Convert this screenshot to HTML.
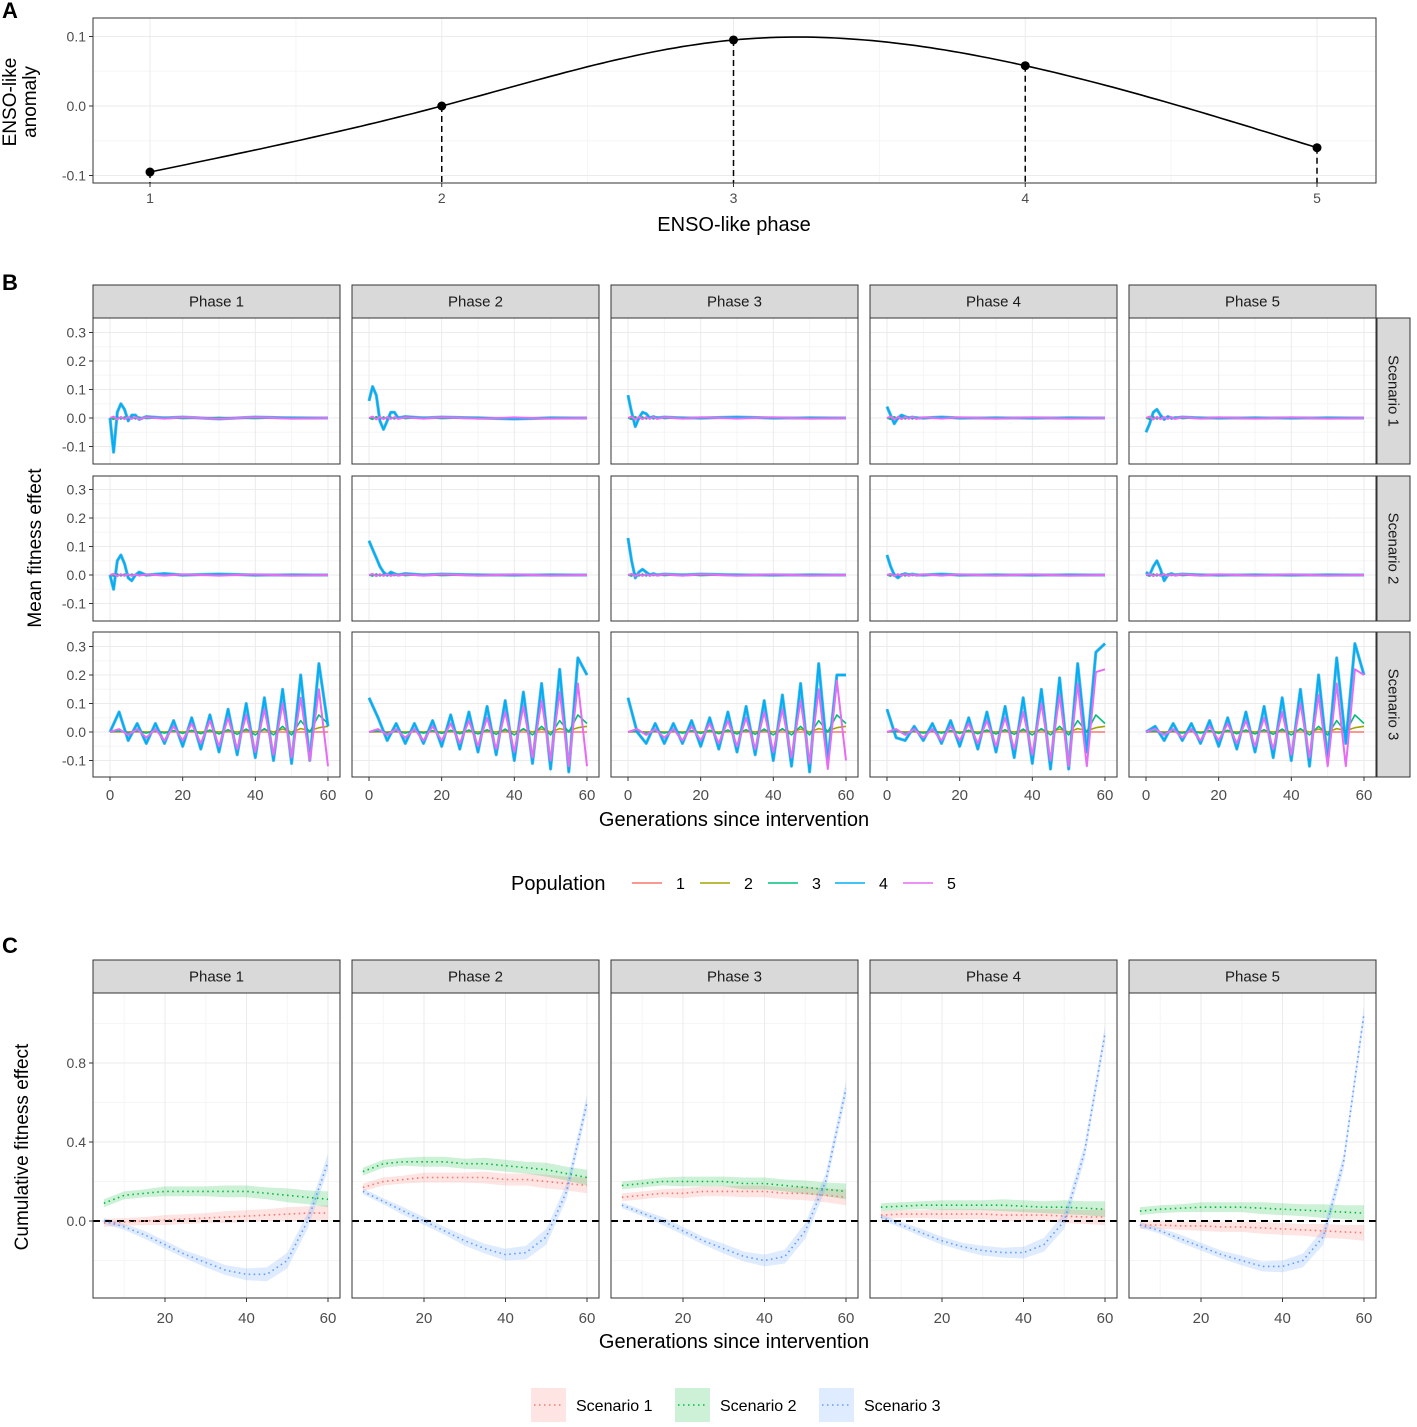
<!DOCTYPE html>
<html><head><meta charset="utf-8">
<style>
html,body{margin:0;padding:0;background:#fff;}
svg{display:block;font-family:"Liberation Sans",Arial,sans-serif;}
</style></head>
<body>
<svg id="chart" width="1417" height="1427" viewBox="0 0 1417 1427" xmlns="http://www.w3.org/2000/svg"></svg>
<script>
// ---------- Panel A data ----------
const aPhases = [1, 2, 3, 4, 5];
const aAnomaly = [-0.095, 0.0, 0.095, 0.058, -0.06];
const aYTicks = [-0.1, 0.0, 0.1];
const aYLabels = ["-0.1", "0.0", "0.1"];

// ---------- Panel B data ----------
const phaseNames = ["Phase 1", "Phase 2", "Phase 3", "Phase 4", "Phase 5"];
const scenarioNames = ["Scenario 1", "Scenario 2", "Scenario 3"];
const popNames = ["1", "2", "3", "4", "5"];
const bYTicks = [-0.1, 0.0, 0.1, 0.2, 0.3];
const bYLabels = ["-0.1", "0.0", "0.1", "0.2", "0.3"];
const bXTicks = [0, 20, 40, 60];
const tEarly = [0, 1, 2, 3, 4, 5, 6, 7, 8, 10, 15, 20, 30, 40, 50, 60];
// pop 4 early response, scenario 1, per phase
const s1Pop4 = [
  [0, -0.12, 0.02, 0.05, 0.03, -0.01, 0.01, 0.01, -0.005, 0.005, 0, 0.003, -0.003, 0.003, 0, 0],
  [0.06, 0.11, 0.08, -0.01, -0.04, -0.01, 0.02, 0.02, 0.0, 0.005, 0, 0.003, 0, -0.003, 0, 0],
  [0.08, 0.02, -0.03, 0.0, 0.02, 0.015, 0.0, 0.005, 0, 0.003, 0, 0, 0.003, 0, 0, 0],
  [0.04, 0.01, -0.02, 0.0, 0.01, 0.005, 0, 0.003, 0, 0, 0.003, 0, 0, 0, 0, 0],
  [-0.05, -0.02, 0.02, 0.03, 0.01, -0.005, 0.005, 0, 0, 0.003, 0, 0, 0, 0, 0, 0]
];
const s1Pop5 = [0, 0.005, -0.005, 0.004, -0.004, 0.003, -0.003, 0.003, -0.003, 0.002, -0.002, 0.002, -0.002, 0.002, -0.002, 0];
const s2Pop4 = [
  [0, -0.05, 0.05, 0.07, 0.04, -0.01, -0.02, 0.0, 0.01, 0.0, 0.005, 0, 0.003, 0, 0, 0],
  [0.12, 0.09, 0.06, 0.03, 0.01, 0.0, 0.01, 0.005, 0, 0.005, 0, 0.003, 0, 0, 0, 0],
  [0.13, 0.05, -0.01, 0.01, 0.02, 0.01, 0.0, 0.005, 0, 0.003, 0, 0.003, 0, 0, 0, 0],
  [0.07, 0.03, 0.0, -0.01, 0.0, 0.005, 0, 0.003, 0, 0, 0.003, 0, 0, 0, 0, 0],
  [0.01, 0.0, 0.03, 0.05, 0.02, -0.02, 0.0, 0.005, 0, 0.003, 0, 0, 0, 0, 0, 0]
];
const s2Pop5 = [0, 0.004, -0.004, 0.003, -0.003, 0.003, -0.003, 0.002, -0.002, 0.002, -0.002, 0.002, -0.002, 0.002, -0.002, 0];
const tLate = [0, 2.5, 5, 7.5, 10, 12.5, 15, 17.5, 20, 22.5, 25, 27.5, 30, 32.5, 35, 37.5, 40, 42.5, 45, 47.5, 50, 52.5, 55, 57.5, 60];
const s3Pop4 = [
  [0, 0.07, -0.03, 0.03, -0.04, 0.03, -0.04, 0.04, -0.05, 0.05, -0.06, 0.06, -0.07, 0.08, -0.08, 0.1, -0.09, 0.12, -0.1, 0.15, -0.11, 0.2, -0.1, 0.24, 0.02],
  [0.12, 0.05, -0.03, 0.03, -0.04, 0.03, -0.04, 0.04, -0.05, 0.06, -0.06, 0.07, -0.07, 0.09, -0.08, 0.11, -0.1, 0.14, -0.11, 0.17, -0.13, 0.22, -0.14, 0.26, 0.2],
  [0.12, 0.0, -0.04, 0.03, -0.04, 0.03, -0.04, 0.04, -0.05, 0.05, -0.06, 0.07, -0.07, 0.09, -0.08, 0.11, -0.1, 0.13, -0.12, 0.17, -0.14, 0.24, -0.1, 0.2, 0.2],
  [0.08, -0.02, -0.03, 0.02, -0.03, 0.03, -0.04, 0.04, -0.05, 0.05, -0.06, 0.07, -0.07, 0.09, -0.09, 0.12, -0.11, 0.15, -0.13, 0.19, -0.13, 0.24, -0.07, 0.28, 0.31],
  [0.0, 0.02, -0.03, 0.03, -0.03, 0.03, -0.04, 0.04, -0.05, 0.05, -0.06, 0.07, -0.07, 0.09, -0.09, 0.12, -0.1, 0.15, -0.12, 0.2, -0.1, 0.26, -0.04, 0.31, 0.2]
];
const s3Pop5 = [
  [0, 0.01, -0.01, 0.01, -0.02, 0.01, -0.03, 0.02, -0.03, 0.03, -0.04, 0.04, -0.05, 0.05, -0.06, 0.06, -0.07, 0.08, -0.08, 0.1, -0.09, 0.12, -0.1, 0.15, -0.12],
  [0, 0.01, -0.01, 0.01, -0.02, 0.01, -0.03, 0.02, -0.03, 0.03, -0.04, 0.04, -0.05, 0.05, -0.06, 0.07, -0.07, 0.09, -0.09, 0.11, -0.1, 0.14, -0.12, 0.17, -0.12],
  [0, 0.01, -0.01, 0.01, -0.02, 0.01, -0.03, 0.02, -0.03, 0.03, -0.04, 0.04, -0.05, 0.05, -0.06, 0.07, -0.07, 0.08, -0.09, 0.11, -0.11, 0.15, -0.13, 0.18, -0.1],
  [0, 0.01, -0.01, 0.01, -0.02, 0.01, -0.03, 0.02, -0.03, 0.03, -0.04, 0.04, -0.05, 0.05, -0.06, 0.07, -0.08, 0.1, -0.1, 0.13, -0.12, 0.17, -0.12, 0.21, 0.22],
  [0, 0.01, -0.01, 0.01, -0.02, 0.01, -0.03, 0.02, -0.03, 0.03, -0.04, 0.04, -0.05, 0.05, -0.06, 0.07, -0.08, 0.1, -0.09, 0.13, -0.12, 0.17, -0.12, 0.22, 0.2]
];
const s3Pop3 = [0, 0.003, -0.003, 0.003, -0.004, 0.004, -0.004, 0.005, -0.005, 0.006, -0.006, 0.007, -0.007, 0.008, -0.008, 0.01, -0.01, 0.012, -0.01, 0.02, -0.01, 0.04, 0.0, 0.06, 0.03];
const s3Pop2 = [0, 0.002, 0, 0.002, 0, 0.002, 0, 0.003, 0, 0.003, 0, 0.004, 0, 0.005, 0, 0.006, 0, 0.008, 0, 0.01, 0, 0.012, 0.005, 0.015, 0.02];
const s3Pop1 = [0, 0, 0, 0, 0, 0, 0, 0, 0, 0, 0, 0, 0, 0, 0, 0, 0, 0, 0, 0, 0, 0, 0, 0, 0];

// ---------- Panel C data ----------
const cGen = [5, 10, 15, 20, 25, 30, 35, 40, 45, 50, 55, 60];
const cYTicks = [0.0, 0.4, 0.8];
const cYLabels = ["0.0", "0.4", "0.8"];
const cXTicks = [20, 40, 60];
const cS1 = [
  [-0.01, -0.005, 0.0, 0.005, 0.01, 0.015, 0.02, 0.025, 0.03, 0.035, 0.04, 0.04],
  [0.17, 0.2, 0.21, 0.22, 0.22, 0.22, 0.22, 0.21, 0.21, 0.2, 0.19, 0.18],
  [0.12, 0.13, 0.14, 0.14, 0.15, 0.15, 0.15, 0.15, 0.14, 0.14, 0.13, 0.12],
  [0.03, 0.035, 0.035, 0.035, 0.035, 0.035, 0.03, 0.03, 0.03, 0.025, 0.02, 0.02],
  [-0.02, -0.02, -0.025, -0.025, -0.03, -0.03, -0.035, -0.04, -0.045, -0.05, -0.055, -0.06]
];
const cS2 = [
  [0.09, 0.13, 0.14, 0.15, 0.15, 0.15, 0.15, 0.15, 0.14, 0.13, 0.12, 0.11],
  [0.25, 0.29, 0.3, 0.3, 0.3, 0.29, 0.29, 0.28, 0.27, 0.26, 0.24, 0.22],
  [0.18, 0.19, 0.2, 0.2, 0.2, 0.2, 0.19, 0.19, 0.18, 0.17, 0.16, 0.15],
  [0.07, 0.075, 0.08, 0.08, 0.08, 0.08, 0.08, 0.075, 0.07, 0.07, 0.065, 0.06],
  [0.05, 0.06, 0.065, 0.07, 0.07, 0.07, 0.065, 0.06, 0.055, 0.05, 0.045, 0.04]
];
const cS3 = [
  [0.0, -0.03, -0.07, -0.12, -0.17, -0.21, -0.25, -0.27, -0.27, -0.2, 0.0, 0.3],
  [0.15, 0.1, 0.05, 0.0, -0.05, -0.1, -0.14, -0.17, -0.16, -0.08, 0.15, 0.6],
  [0.08, 0.04, 0.0, -0.05, -0.1, -0.14, -0.18, -0.2, -0.18, -0.05, 0.2, 0.67],
  [0.02, -0.02, -0.06, -0.1, -0.13, -0.15, -0.16, -0.16, -0.12, 0.0, 0.35, 0.95],
  [-0.02, -0.05, -0.09, -0.13, -0.17, -0.2, -0.23, -0.23, -0.2, -0.08, 0.3, 1.05]
];
const cBand1 = [0.02, 0.02, 0.02, 0.025, 0.025, 0.025, 0.03, 0.03, 0.03, 0.035, 0.035, 0.04];
const cBand3 = [0.015, 0.015, 0.02, 0.02, 0.02, 0.025, 0.025, 0.03, 0.035, 0.04, 0.04, 0.04];

// ---------- drawing ----------
const NS = "http://www.w3.org/2000/svg";
const svg = document.getElementById("chart");
function mk(tag, attrs, parent) {
  const e = document.createElementNS(NS, tag);
  for (const k in attrs) e.setAttribute(k, attrs[k]);
  (parent || svg).appendChild(e);
  return e;
}
function txt(s, x, y, size, fill, anchor, extra) {
  const t = mk("text", Object.assign({x: x, y: y, "font-size": size, fill: fill, "text-anchor": anchor || "middle"}, extra || {}));
  t.textContent = s;
  return t;
}
const popColors = ["#F8766D", "#A3A500", "#00BF7D", "#00B0F6", "#E76BF3"];
const scColors = ["#F8766D", "#00BA38", "#619CFF"];
const GRID = "#EBEBEB", GRIDMIN = "#F5F5F5", TICKC = "#4D4D4D";

// Panel letters
[["A", 2, 18], ["B", 2, 290], ["C", 2, 953]].forEach(function (p) {
  const t = txt(p[0], p[1], p[2], 22, "#000", "start", {"font-weight": "bold"});
  
  
});

// ===== Panel A =====
(function () {
  const L = 93, R = 1376, T = 18, B = 183;
  const xA = function (p) { return 150 + (p - 1) * 291.75; };
  const yA = function (v) { return 106 - v * 695; };
  const g = mk("g", {});
  
  
  mk("rect", {x: L, y: T, width: R - L, height: B - T, fill: "#fff"}, g);
  [-0.05, 0.05].forEach(function (v) { mk("line", {x1: L, x2: R, y1: yA(v), y2: yA(v), stroke: GRIDMIN}, g); });
  [1.5, 2.5, 3.5, 4.5].forEach(function (v) { mk("line", {x1: xA(v), x2: xA(v), y1: T, y2: B, stroke: GRIDMIN}, g); });
  aYTicks.forEach(function (v) { mk("line", {x1: L, x2: R, y1: yA(v), y2: yA(v), stroke: GRID}, g); });
  aPhases.forEach(function (p) { mk("line", {x1: xA(p), x2: xA(p), y1: T, y2: B, stroke: GRID}, g); });
  // natural cubic spline
  const n = aPhases.length, h = 1;
  const alpha = [0], l = [1], mu = [0], z = [0];
  for (let i = 1; i < n - 1; i++) alpha[i] = 3 * (aAnomaly[i + 1] - 2 * aAnomaly[i] + aAnomaly[i - 1]) / h;
  for (let i = 1; i < n - 1; i++) { l[i] = 4 * h - h * mu[i - 1]; mu[i] = h / l[i]; z[i] = (alpha[i] - h * z[i - 1]) / l[i]; }
  const c = new Array(n).fill(0), b = [], d = [];
  for (let j = n - 2; j >= 0; j--) {
    c[j] = (j > 0 ? z[j] - mu[j] * c[j + 1] : 0);
    if (j === 0) c[0] = 0;
    b[j] = (aAnomaly[j + 1] - aAnomaly[j]) / h - h * (c[j + 1] + 2 * c[j]) / 3;
    d[j] = (c[j + 1] - c[j]) / (3 * h);
  }
  let dstr = "";
  for (let j = 0; j < n - 1; j++) {
    for (let k = 0; k <= 40; k++) {
      const s = k / 40 * h;
      const v = aAnomaly[j] + b[j] * s + c[j] * s * s + d[j] * s * s * s;
      dstr += (dstr ? "L" : "M") + xA(aPhases[j] + s).toFixed(1) + "," + yA(v).toFixed(1);
    }
  }
  aPhases.forEach(function (p, i) {
    const dl = mk("line", {x1: xA(p), x2: xA(p), y1: yA(aAnomaly[i]), y2: B, stroke: "#000", "stroke-width": 1.5, "stroke-dasharray": "6,4"}, g);
    
    
  });
  const cur = mk("path", {d: dstr, fill: "none", stroke: "#000", "stroke-width": 1.6}, g);
  
  
  aPhases.forEach(function (p, i) {
    const pt = mk("circle", {cx: xA(p), cy: yA(aAnomaly[i]), r: 4.5, fill: "#000"}, g);
    
    
  });
  mk("rect", {x: L, y: T, width: R - L, height: B - T, fill: "none", stroke: "#333", "stroke-width": 1}, g);
  aYTicks.forEach(function (v, i) {
    mk("line", {x1: L - 4, x2: L, y1: yA(v), y2: yA(v), stroke: "#333"}, g);
    txt(aYLabels[i], L - 7, yA(v) + 5, 14, TICKC, "end");
  });
  aPhases.forEach(function (p) {
    mk("line", {x1: xA(p), x2: xA(p), y1: B, y2: B + 4, stroke: "#333"}, g);
    txt(String(p), xA(p), B + 20, 14, TICKC);
  });
  const xt = txt("ENSO-like phase", 734, 231, 20, "#000");
  
  
  const yt = mk("text", {x: 0, y: 0, "font-size": 19, fill: "#000", "text-anchor": "middle", transform: "translate(16,102) rotate(-90)"});
  
  
  const t1 = mk("tspan", {x: 0, dy: 0}, yt); t1.textContent = "ENSO-like";
  const t2 = mk("tspan", {x: 0, dy: 20}, yt); t2.textContent = "anomaly";
})();

const colLefts = [93, 352, 611, 870, 1129];
const colW = 247;

function strip(x, y, w, h, label, vertical) {
  const g = mk("g", {});
  
  
  mk("rect", {x: x, y: y, width: w, height: h, fill: "#D9D9D9", stroke: "#333", "stroke-width": 1}, g);
  if (vertical) {
    const t = mk("text", {x: 0, y: 0, "font-size": 15, fill: "#1A1A1A", "text-anchor": "middle", transform: "translate(" + (x + w / 2 - 5) + "," + (y + h / 2) + ") rotate(90)"}, g);
    t.textContent = label;
  } else {
    const t = txt(label, x + w / 2, y + h / 2 + 5, 15, "#1A1A1A", "middle");
    g.appendChild(t);
  }
}

// ===== Panel B =====
(function () {
  const rowTops = [318, 476, 632];
  const rowH = [146, 145, 145];
  const zeroOff = [100, 99, 100];
  const scale = 285;
  colLefts.forEach(function (cl, ci) { strip(cl, 285, colW, 33, phaseNames[ci], false); });
  rowTops.forEach(function (rt, ri) { strip(1377, rt, 33, rowH[ri], scenarioNames[ri], true); });
  rowTops.forEach(function (rt, ri) {
    colLefts.forEach(function (cl, ci) {
      const xB = function (gen) { return cl + 17 + gen * 3.633; };
      const yB = function (v) { return rt + zeroOff[ri] - v * scale; };
      const g = mk("g", {});
      
      
      mk("rect", {x: cl, y: rt, width: colW, height: rowH[ri], fill: "#fff"}, g);
      [-0.05, 0.05, 0.15, 0.25].forEach(function (v) { mk("line", {x1: cl, x2: cl + colW, y1: yB(v), y2: yB(v), stroke: GRIDMIN}, g); });
      [10, 30, 50].forEach(function (v) { mk("line", {x1: xB(v), x2: xB(v), y1: rt, y2: rt + rowH[ri], stroke: GRIDMIN}, g); });
      bYTicks.forEach(function (v) { mk("line", {x1: cl, x2: cl + colW, y1: yB(v), y2: yB(v), stroke: GRID}, g); });
      bXTicks.forEach(function (v) { mk("line", {x1: xB(v), x2: xB(v), y1: rt, y2: rt + rowH[ri], stroke: GRID}, g); });
      let times, series;
      if (ri === 0) {
        times = tEarly;
        series = [tEarly.map(function () { return 0; }), s1Pop5.map(function (v) { return v * 0.5; }), s1Pop5.map(function (v) { return -v; }), s1Pop4[ci], s1Pop5];
      } else if (ri === 1) {
        times = tEarly;
        series = [tEarly.map(function () { return 0; }), s2Pop5.map(function (v) { return v * 0.5; }), s2Pop5.map(function (v) { return -v; }), s2Pop4[ci], s2Pop5];
      } else {
        times = tLate;
        series = [s3Pop1, s3Pop2, s3Pop3, s3Pop4[ci], s3Pop5[ci]];
      }
      const order = [0, 1, 2, 3, 4];
      order.forEach(function (pi) {
        const vals = series[pi];
        const d = vals.map(function (v, k) { return (k ? "L" : "M") + xB(times[k]).toFixed(1) + "," + yB(v).toFixed(1); }).join("");
        if (pi === 3) {
          const sh = mk("path", {d: d, fill: "none", stroke: "#1B8FC9", "stroke-width": 3.2, "stroke-linejoin": "round", opacity: 0.6}, g);
          
          
        }
        const p = mk("path", {d: d, fill: "none", stroke: popColors[pi], "stroke-width": pi >= 3 ? 2 : 1.6, "stroke-linejoin": "round"}, g);
        
        
      });
      mk("rect", {x: cl, y: rt, width: colW, height: rowH[ri], fill: "none", stroke: "#333", "stroke-width": 1}, g);
      if (ci === 0) {
        bYTicks.forEach(function (v, i) {
          mk("line", {x1: cl - 4, x2: cl, y1: yB(v), y2: yB(v), stroke: "#333"}, g);
          txt(bYLabels[i], cl - 7, yB(v) + 5, 14, TICKC, "end");
        });
      }
      if (ri === 2) {
        bXTicks.forEach(function (v) {
          mk("line", {x1: xB(v), x2: xB(v), y1: rt + rowH[ri], y2: rt + rowH[ri] + 4, stroke: "#333"}, g);
          txt(String(v), xB(v), rt + rowH[ri] + 23, 15, TICKC);
        });
      }
    });
  });
  const xt = txt("Generations since intervention", 734, 826, 20, "#000");
  
  
  const yt = mk("text", {x: 0, y: 0, "font-size": 19, fill: "#000", "text-anchor": "middle", transform: "translate(41,548) rotate(-90)"});
  yt.textContent = "Mean fitness effect";
  
  
  // legend
  const lg = mk("g", {});
  
  
  const lt = txt("Population", 511, 890, 20, "#000", "start");
  lg.appendChild(lt);
  const lx = [632, 700, 768, 835, 903];
  popNames.forEach(function (n, i) {
    const e = mk("g", {}, lg);
    
    
    mk("line", {x1: lx[i], x2: lx[i] + 30, y1: 883, y2: 883, stroke: popColors[i], "stroke-width": 1.6}, e);
    e.appendChild(txt(n, lx[i] + 44, 889, 16, "#000", "start"));
  });
})();

// ===== Panel C =====
(function () {
  const T = 993, B = 1298;
  colLefts.forEach(function (cl, ci) { strip(cl, 960, colW, 33, phaseNames[ci], false); });
  colLefts.forEach(function (cl, ci) {
    const xC = function (gen) { return cl - 9.5 + gen * 4.075; };
    const yC = function (v) { return 1221 - v * 197.5; };
    const g = mk("g", {});
    
    
    mk("rect", {x: cl, y: T, width: colW, height: B - T, fill: "#fff"}, g);
    [-0.2, 0.2, 0.6, 1.0].forEach(function (v) { mk("line", {x1: cl, x2: cl + colW, y1: yC(v), y2: yC(v), stroke: GRIDMIN}, g); });
    [10, 30, 50].forEach(function (v) { mk("line", {x1: xC(v), x2: xC(v), y1: T, y2: B, stroke: GRIDMIN}, g); });
    cYTicks.forEach(function (v) { mk("line", {x1: cl, x2: cl + colW, y1: yC(v), y2: yC(v), stroke: GRID}, g); });
    cXTicks.forEach(function (v) { mk("line", {x1: xC(v), x2: xC(v), y1: T, y2: B, stroke: GRID}, g); });
    const sets = [[cS1[ci], cBand1], [cS2[ci], cBand1], [cS3[ci], cBand3]];
    sets.forEach(function (s, si) {
      const vals = s[0], band = s[1];
      let up = vals.map(function (v, k) { return xC(cGen[k]).toFixed(1) + "," + yC(v + band[k]).toFixed(1); });
      let lo = vals.map(function (v, k) { return xC(cGen[k]).toFixed(1) + "," + yC(v - band[k]).toFixed(1); }).reverse();
      const rb = mk("path", {d: "M" + up.join("L") + "L" + lo.join("L") + "Z", fill: scColors[si], opacity: 0.2}, g);
      
      
    });
    mk("line", {x1: cl, x2: cl + colW, y1: yC(0), y2: yC(0), stroke: "#000", "stroke-width": 2, "stroke-dasharray": "7,5"}, g);
    sets.forEach(function (s, si) {
      const d = s[0].map(function (v, k) { return (k ? "L" : "M") + xC(cGen[k]).toFixed(1) + "," + yC(v).toFixed(1); }).join("");
      const p = mk("path", {d: d, fill: "none", stroke: scColors[si], "stroke-width": 1.6, "stroke-dasharray": "1.5,3.5"}, g);
      
      
    });
    mk("rect", {x: cl, y: T, width: colW, height: B - T, fill: "none", stroke: "#333", "stroke-width": 1}, g);
    if (ci === 0) {
      cYTicks.forEach(function (v, i) {
        mk("line", {x1: cl - 4, x2: cl, y1: yC(v), y2: yC(v), stroke: "#333"}, g);
        txt(cYLabels[i], cl - 7, yC(v) + 5, 14, TICKC, "end");
      });
    }
    cXTicks.forEach(function (v) {
      mk("line", {x1: xC(v), x2: xC(v), y1: B, y2: B + 4, stroke: "#333"}, g);
      txt(String(v), xC(v), B + 25, 15, TICKC);
    });
  });
  const xt = txt("Generations since intervention", 734, 1348, 20, "#000");
  
  
  const yt = mk("text", {x: 0, y: 0, "font-size": 19, fill: "#000", "text-anchor": "middle", transform: "translate(28,1147) rotate(-90)"});
  yt.textContent = "Cumulative fitness effect";
  
  
  const lg = mk("g", {});
  
  
  const lx = [531, 675, 819];
  scenarioNames.forEach(function (n, i) {
    const e = mk("g", {}, lg);
    
    
    mk("rect", {x: lx[i], y: 1388, width: 35, height: 34, fill: scColors[i], opacity: 0.2}, e);
    mk("line", {x1: lx[i] + 3, x2: lx[i] + 32, y1: 1405, y2: 1405, stroke: scColors[i], "stroke-width": 1.6, "stroke-dasharray": "1.5,3.5"}, e);
    e.appendChild(txt(n, lx[i] + 45, 1411, 16, "#000", "start"));
  });
})();
</script>
</body></html>
